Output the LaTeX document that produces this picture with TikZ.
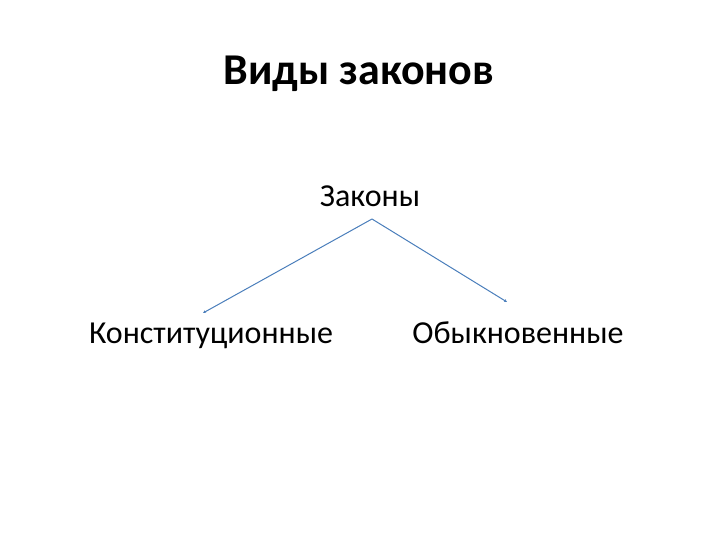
\documentclass[tikz,border=0pt]{standalone}
\usepackage{fontspec}
\setmainfont{Carlito}
\usetikzlibrary{arrows.meta}
\definecolor{linkblue}{RGB}{74,126,187}
\begin{document}
\begin{tikzpicture}[x=1pt,y=-1pt,
  lbl/.style={inner sep=0pt,anchor=base},
  link/.style={draw=linkblue,line width=1pt,-{Stealth[length=3pt,width=3pt]}}]
\useasboundingbox (0,0) rectangle (720,540);
\node[lbl,font=\fontsize{44}{48}\selectfont\bfseries] (title) at (359,85) {Виды законов};
\node[lbl,font=\fontsize{32}{36}\selectfont] (root) at (370,207) {Законы};
\node[lbl,font=\fontsize{32}{36}\selectfont] (left) at (211,343) {Конституционные};
\node[lbl,font=\fontsize{32}{36}\selectfont] (right) at (518,343) {Обыкновенные};
\coordinate (apex) at (372,219);
\coordinate (lend) at (203,313);
\coordinate (rend) at (507,302);
\draw[link] (apex) -- (lend);
\draw[link] (apex) -- (rend);
\end{tikzpicture}
\end{document}
